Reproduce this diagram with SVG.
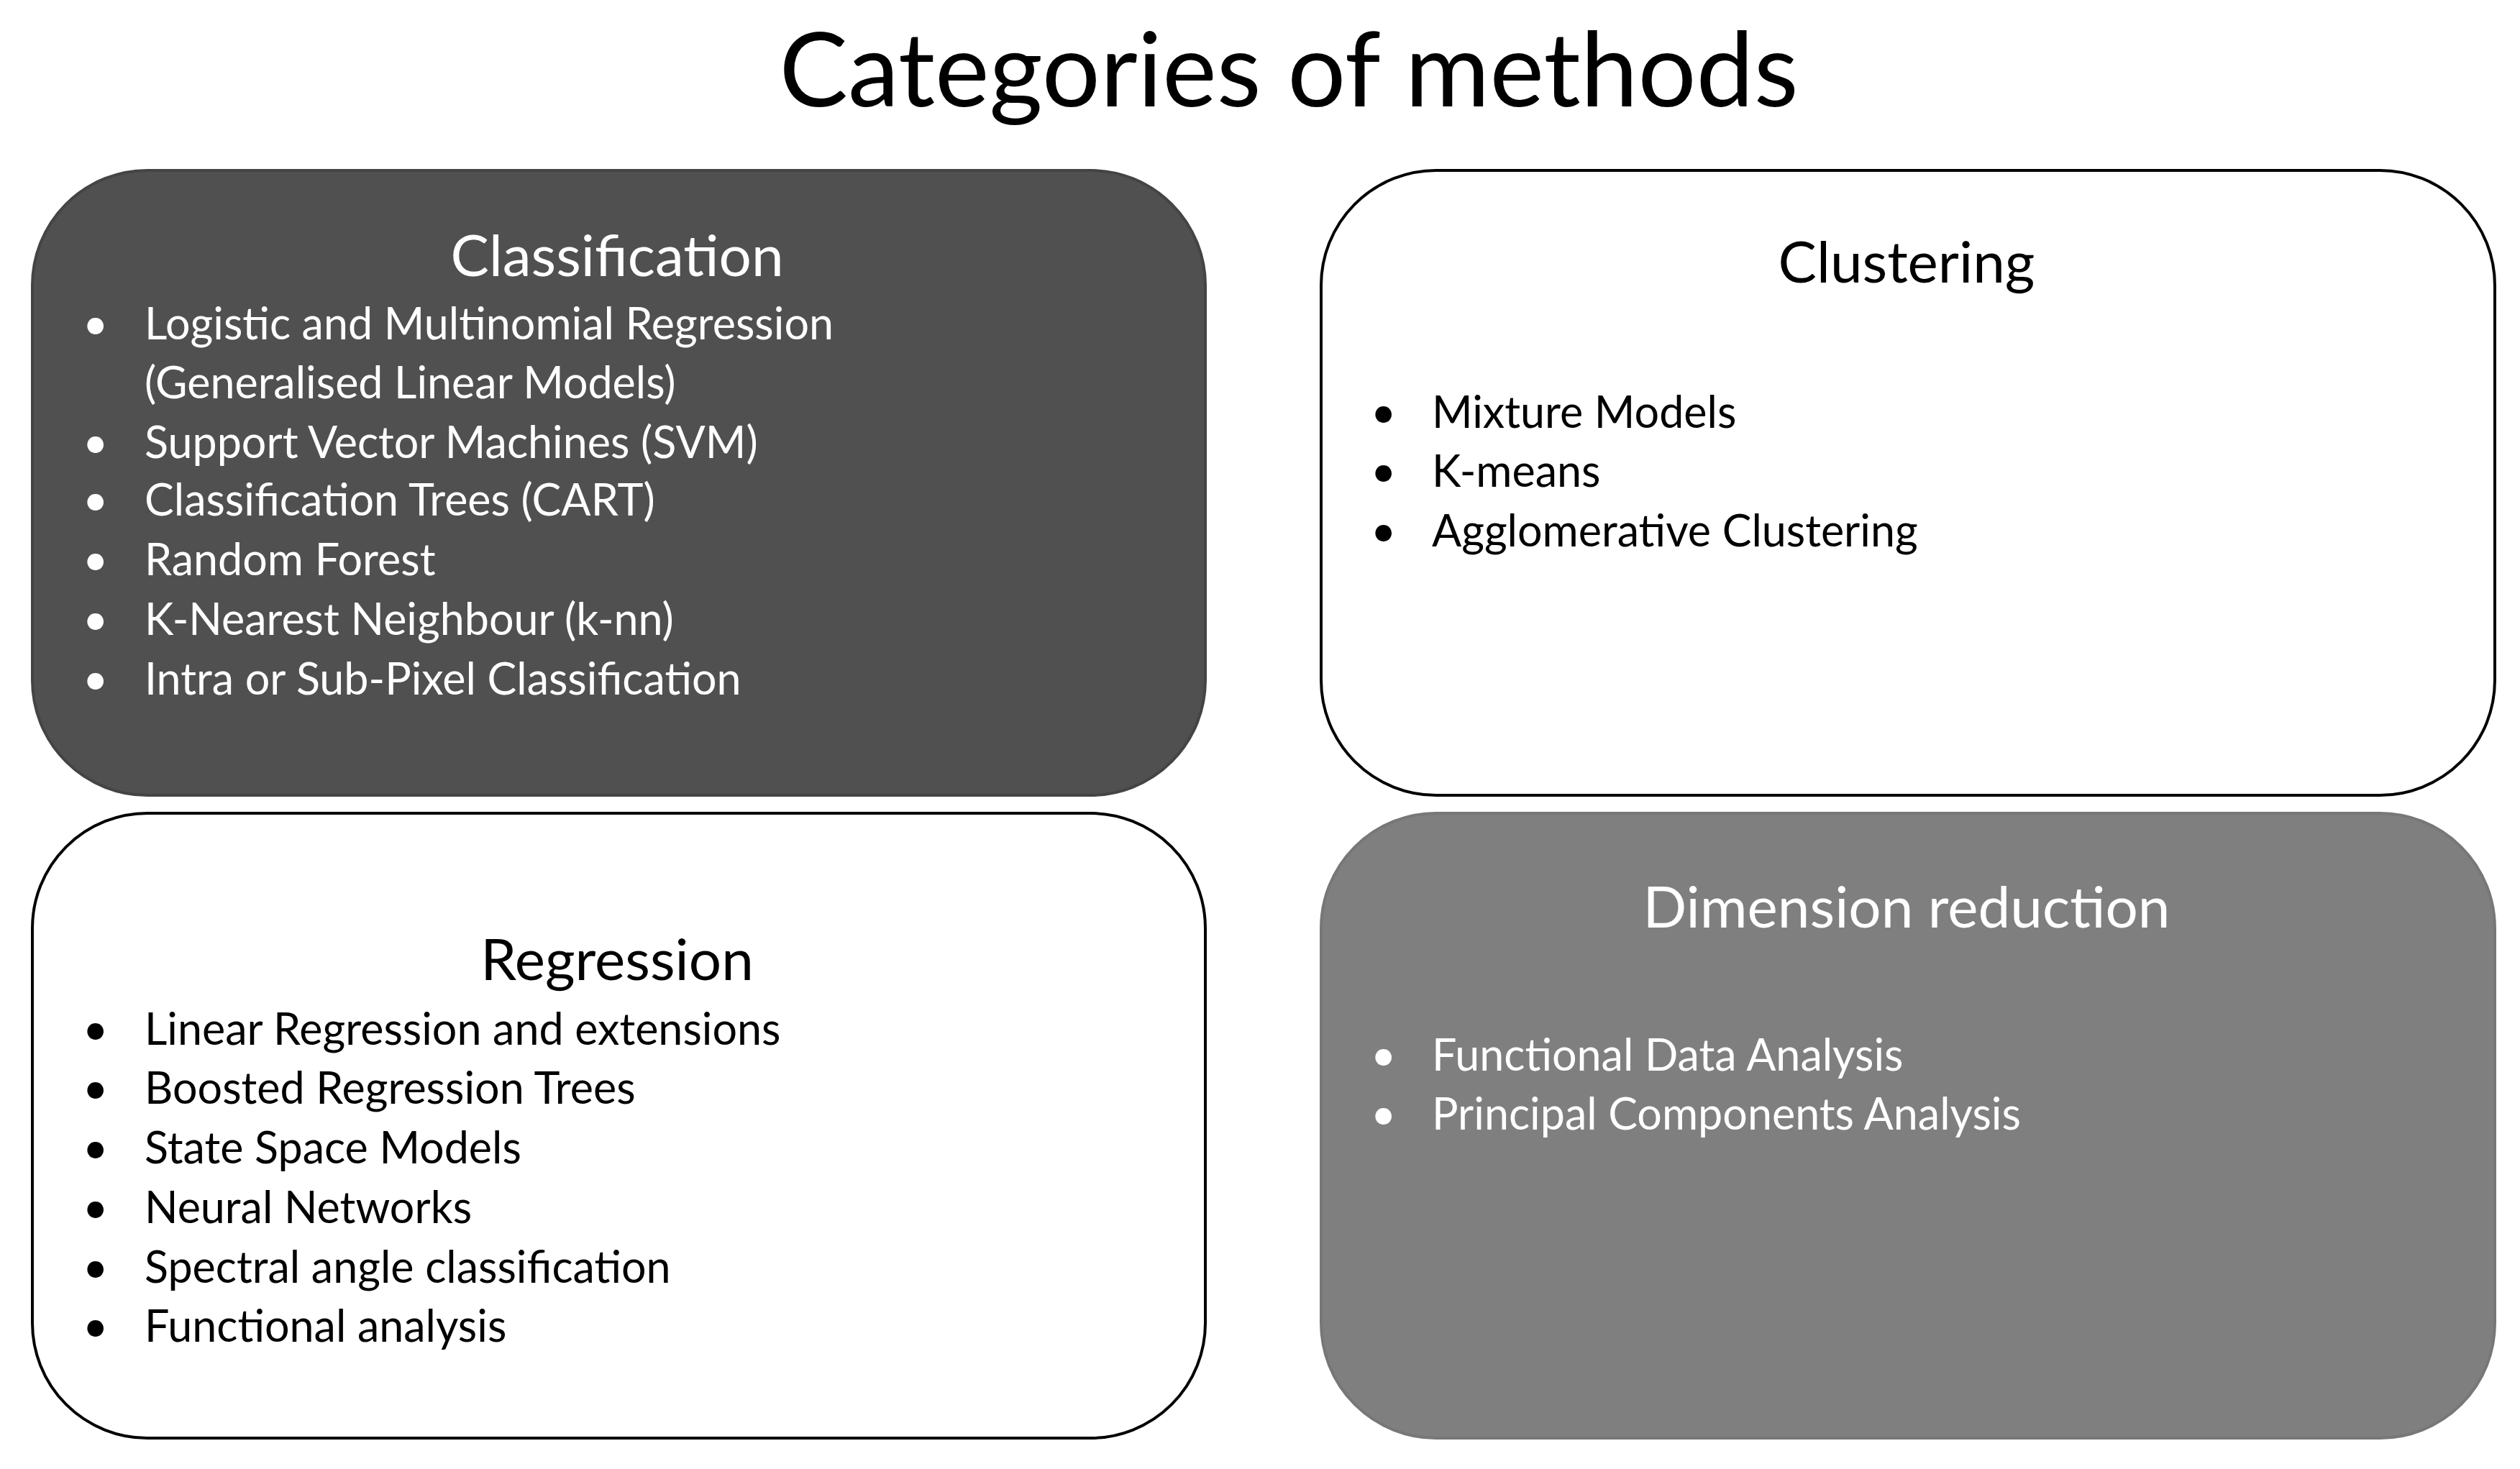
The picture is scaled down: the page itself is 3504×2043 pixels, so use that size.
<svg xmlns="http://www.w3.org/2000/svg" width="3504" height="2043" viewBox="0 0 3504 2043">
<style>
text{font-family:Lato,"Open Sans","Liberation Sans",sans-serif}
.h{font-size:80px;text-anchor:middle}
.i{font-size:61px}
.w{fill:#ffffff}
.k{fill:#000000}
.box{stroke-width:4}
</style>
<rect width="3504" height="2043" fill="#ffffff"/>
<text x="1792" y="148" class="k" style="font-size:143px;text-anchor:middle">Categories of methods</text>
<g id="classification">
<rect x="45" y="237" width="1631" height="869" rx="160" fill="#505050" stroke="#444" class="box"/>
<text x="858" y="384" class="h w">Classification</text>
<g class="i w">
<text x="115" y="472">•</text><text x="201" y="472">Logistic and Multinomial Regression</text>
<text x="201" y="554">(Generalised Linear Models)</text>
<text x="115" y="637">•</text><text x="201" y="637">Support Vector Machines (SVM)</text>
<text x="115" y="717">•</text><text x="201" y="717">Classification Trees (CART)</text>
<text x="115" y="800">•</text><text x="201" y="800">Random Forest</text>
<text x="115" y="883">•</text><text x="201" y="883">K-Nearest Neighbour (k-nn)</text>
<text x="115" y="966">•</text><text x="201" y="966">Intra or Sub-Pixel Classification</text>
</g>
</g>
<g id="clustering">
<rect x="1837" y="237" width="1632" height="869" rx="160" fill="#ffffff" stroke="#000" class="box"/>
<text x="2651" y="393" class="h k">Clustering</text>
<g class="i k">
<text x="1906" y="595">•</text><text x="1991" y="595">Mixture Models</text>
<text x="1906" y="677">•</text><text x="1991" y="677">K-means</text>
<text x="1906" y="760">•</text><text x="1991" y="760">Agglomerative Clustering</text>
</g>
</g>
<g id="regression">
<rect x="45" y="1131" width="1631" height="869" rx="160" fill="#ffffff" stroke="#000" class="box"/>
<text x="858" y="1363" class="h k">Regression</text>
<g class="i k">
<text x="115" y="1453">•</text><text x="201" y="1453">Linear Regression and extensions</text>
<text x="115" y="1535">•</text><text x="201" y="1535">Boosted Regression Trees</text>
<text x="115" y="1618">•</text><text x="201" y="1618">State Space Models</text>
<text x="115" y="1701">•</text><text x="201" y="1701">Neural Networks</text>
<text x="115" y="1784">•</text><text x="201" y="1784">Spectral angle classification</text>
<text x="115" y="1866">•</text><text x="201" y="1866">Functional analysis</text>
</g>
</g>
<g id="dimension-reduction">
<rect x="1837" y="1131" width="1632" height="869" rx="160" fill="#7f7f7f" stroke="#777" class="box"/>
<text x="2651" y="1290" class="h w">Dimension reduction</text>
<g class="i w">
<text x="1906" y="1489">•</text><text x="1991" y="1489">Functional Data Analysis</text>
<text x="1906" y="1571">•</text><text x="1991" y="1571">Principal Components Analysis</text>
</g>
</g>
<g id="connectors"/>
</svg>
